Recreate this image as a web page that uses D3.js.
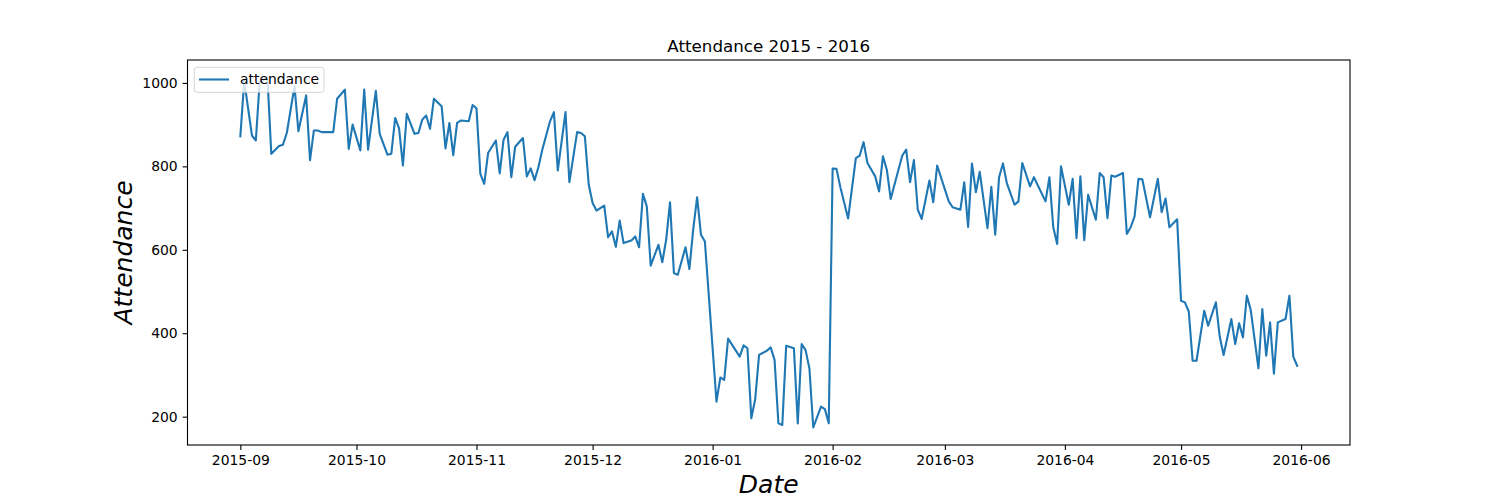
<!DOCTYPE html>
<html lang="en">
<head>
    <meta charset="UTF-8">
    <title>Attendance 2015 - 2016</title>
    <style>
        body { margin: 0; background: #ffffff; }
        text { font-family: "DejaVu Sans", sans-serif; fill: #000000; }
    </style>
</head>
<body>
    <script src="https://d3js.org/d3.v7.min.js"></script>
    <script>
        // Daily attendance readings (dates where the line has a vertex)
        let dates = [
            "2015-09-01", "2015-09-02", "2015-09-04", "2015-09-05", "2015-09-06", "2015-09-08", "2015-09-09", "2015-09-11",
            "2015-09-12", "2015-09-13", "2015-09-15", "2015-09-16", "2015-09-18", "2015-09-19", "2015-09-20", "2015-09-21",
            "2015-09-22", "2015-09-25", "2015-09-26", "2015-09-28", "2015-09-29", "2015-09-30",
            "2015-10-02", "2015-10-03", "2015-10-04", "2015-10-06", "2015-10-07", "2015-10-09", "2015-10-10", "2015-10-11",
            "2015-10-12", "2015-10-13", "2015-10-14", "2015-10-16", "2015-10-17", "2015-10-18", "2015-10-19", "2015-10-20",
            "2015-10-21", "2015-10-23", "2015-10-24", "2015-10-25", "2015-10-26", "2015-10-27", "2015-10-28", "2015-10-30",
            "2015-10-31",
            "2015-11-01", "2015-11-02", "2015-11-03", "2015-11-04", "2015-11-06", "2015-11-07", "2015-11-08", "2015-11-09",
            "2015-11-10", "2015-11-11", "2015-11-13", "2015-11-14", "2015-11-15", "2015-11-16", "2015-11-17", "2015-11-18",
            "2015-11-20", "2015-11-21", "2015-11-22", "2015-11-24", "2015-11-25", "2015-11-27", "2015-11-28", "2015-11-29",
            "2015-11-30",
            "2015-12-01", "2015-12-02", "2015-12-04", "2015-12-05", "2015-12-06", "2015-12-07", "2015-12-08", "2015-12-09",
            "2015-12-11", "2015-12-12", "2015-12-13", "2015-12-14", "2015-12-15", "2015-12-16", "2015-12-18", "2015-12-19",
            "2015-12-20", "2015-12-21", "2015-12-22", "2015-12-23", "2015-12-25", "2015-12-26", "2015-12-27", "2015-12-28",
            "2015-12-29", "2015-12-30",
            "2016-01-02", "2016-01-03", "2016-01-04", "2016-01-05", "2016-01-08", "2016-01-09", "2016-01-10", "2016-01-11",
            "2016-01-12", "2016-01-13", "2016-01-15", "2016-01-16", "2016-01-17", "2016-01-18", "2016-01-19", "2016-01-20",
            "2016-01-22", "2016-01-23", "2016-01-24", "2016-01-25", "2016-01-26", "2016-01-27", "2016-01-29", "2016-01-30",
            "2016-01-31",
            "2016-02-01", "2016-02-02", "2016-02-03", "2016-02-05", "2016-02-07", "2016-02-08", "2016-02-09", "2016-02-10",
            "2016-02-12", "2016-02-13", "2016-02-14", "2016-02-15", "2016-02-16", "2016-02-18", "2016-02-19", "2016-02-20",
            "2016-02-21", "2016-02-22", "2016-02-23", "2016-02-24", "2016-02-26", "2016-02-27", "2016-02-28",
            "2016-03-01", "2016-03-02", "2016-03-03", "2016-03-05", "2016-03-06", "2016-03-07", "2016-03-08", "2016-03-09",
            "2016-03-10", "2016-03-12", "2016-03-13", "2016-03-14", "2016-03-15", "2016-03-16", "2016-03-17", "2016-03-19",
            "2016-03-20", "2016-03-21", "2016-03-23", "2016-03-24", "2016-03-27", "2016-03-28", "2016-03-29", "2016-03-30",
            "2016-03-31",
            "2016-04-02", "2016-04-03", "2016-04-04", "2016-04-05", "2016-04-06", "2016-04-07", "2016-04-09", "2016-04-10",
            "2016-04-11", "2016-04-12", "2016-04-13", "2016-04-14", "2016-04-16", "2016-04-17", "2016-04-18", "2016-04-19",
            "2016-04-20", "2016-04-21", "2016-04-23", "2016-04-25", "2016-04-26", "2016-04-27", "2016-04-28", "2016-04-30",
            "2016-05-01", "2016-05-02", "2016-05-03", "2016-05-04", "2016-05-05", "2016-05-07", "2016-05-08", "2016-05-10",
            "2016-05-11", "2016-05-12", "2016-05-14", "2016-05-15", "2016-05-16", "2016-05-17", "2016-05-18", "2016-05-19",
            "2016-05-21", "2016-05-22", "2016-05-23", "2016-05-24", "2016-05-25", "2016-05-26", "2016-05-28", "2016-05-29",
            "2016-05-30", "2016-05-31"
        ];

        let attendance = [
            872, 1005, 874, 862, 1003, 1013, 830, 849,
            852, 880, 992, 884, 970, 815, 886, 886,
            882, 882, 962, 984, 842, 900,
            838, 984, 840, 981, 878, 828, 830, 916,
            891, 802, 926, 878, 880, 912, 922, 890,
            962, 944, 843, 904, 827, 904, 910, 908,
            947,
            939, 782, 758, 832, 862, 783, 864, 882,
            774, 847, 868, 776, 795, 767, 798, 840,
            908, 930, 790, 930, 762, 882, 880, 872,
            756,
            712, 694, 706, 630, 644, 607, 670, 616,
            622, 632, 606, 734, 704, 562, 612, 570,
            624, 714, 544, 540, 606, 554, 650, 726,
            636, 620,
            236, 294, 288, 387, 344, 371, 364, 196,
            242, 348, 358, 366, 336, 184, 180, 370,
            364, 184, 374, 360, 316, 174, 224, 218,
            184,
            795, 794, 750, 675, 820, 826, 858, 808,
            776, 740, 824, 792, 722, 792, 826, 840,
            762, 815, 696, 674, 766, 714, 802,
            745, 716, 702, 696, 762, 655, 807, 738,
            787, 652, 751, 636, 774, 807, 760, 708,
            716, 808, 752, 774, 716, 774, 654, 614,
            800,
            708, 770, 628, 776, 623, 732, 672, 784,
            774, 676, 778, 775, 784, 638, 654, 680,
            770, 769, 678, 770, 690, 723, 654, 673,
            478, 474, 452, 334, 334, 454, 418, 474,
            392, 348, 434, 374, 424, 390, 490, 456,
            316, 458, 346, 426, 303, 426, 434, 490,
            344, 322
        ];

        let yTicks = [200, 400, 600, 800, 1000];
        let seriesName = "attendance";

        // Figure and axes box (matplotlib default subplot position)
        let svgWidth = 1500;
        let svgHeight = 500;
        let margin = { top: 60, right: 150, bottom: 55, left: 187.5 };
        let chartWidth = svgWidth - margin.left - margin.right;
        let chartHeight = svgHeight - margin.top - margin.bottom;

        let parseDate = d3.timeParse("%Y-%m-%d");
        let data = dates.map((d, i) => ({ date: parseDate(d), value: attendance[i] }));

        let svg = d3.select("body")
            .append("svg")
            .attr("width", svgWidth)
            .attr("height", svgHeight);

        let chartGroup = svg.append("g")
            .attr("transform", `translate(${margin.left}, ${margin.top})`);

        // 5% padding on both axes, like matplotlib's autoscale
        let xExt = d3.extent(data, d => d.date);
        let xPad = (xExt[1] - xExt[0]) * 0.05;
        let xScale = d3.scaleTime()
            .domain([new Date(+xExt[0] - xPad), new Date(+xExt[1] + xPad)])
            .range([0, chartWidth]);

        let yExt = d3.extent(data, d => d.value);
        let yPad = (yExt[1] - yExt[0]) * 0.05;
        let yScale = d3.scaleLinear()
            .domain([yExt[0] - yPad, yExt[1] + yPad])
            .range([chartHeight, 0]);

        // Axes
        let xAxis = d3.axisBottom(xScale)
            .ticks(d3.timeMonth.every(1))
            .tickFormat(d3.timeFormat("%Y-%m"))
            .tickSizeInner(4.9)
            .tickSizeOuter(0)
            .tickPadding(4.9);

        let yAxis = d3.axisLeft(yScale)
            .tickValues(yTicks)
            .tickFormat(d3.format("d"))
            .tickSizeInner(4.9)
            .tickSizeOuter(0)
            .tickPadding(4.9);

        let gx = chartGroup.append("g")
            .attr("transform", `translate(0, ${chartHeight})`)
            .call(xAxis);

        let gy = chartGroup.append("g")
            .call(yAxis);

        [gx, gy].forEach(g => {
            g.select(".domain").remove();
            g.selectAll(".tick line").attr("stroke", "#000").attr("stroke-width", 1.1);
            g.selectAll(".tick text")
                .style("font-family", "DejaVu Sans")
                .style("font-size", "13.9px")
                .attr("fill", "#000");
        });

        // The attendance line
        let line = d3.line()
            .x(d => xScale(d.date))
            .y(d => yScale(d.value));

        chartGroup.append("path")
            .datum(data)
            .attr("fill", "none")
            .attr("stroke", "#1f77b4")
            .attr("stroke-width", 2.1)
            .attr("stroke-linejoin", "round")
            .attr("stroke-linecap", "square")
            .attr("d", line);

        // Axes frame
        chartGroup.append("rect")
            .attr("width", chartWidth)
            .attr("height", chartHeight)
            .attr("fill", "none")
            .attr("stroke", "#000")
            .attr("stroke-width", 1.1);

        // Legend, upper left
        let legend = chartGroup.append("g")
            .attr("transform", "translate(6.8, 7.3)");

        legend.append("rect")
            .attr("width", 129.7)
            .attr("height", 25)
            .attr("rx", 2.8)
            .attr("fill", "#fff")
            .attr("fill-opacity", 0.8)
            .attr("stroke", "#cccccc")
            .attr("stroke-opacity", 0.8)
            .attr("stroke-width", 1);

        legend.append("line")
            .attr("x1", 4.7)
            .attr("x2", 34.7)
            .attr("y1", 12.2)
            .attr("y2", 12.2)
            .attr("stroke", "#1f77b4")
            .attr("stroke-width", 2.1);

        legend.append("text")
            .attr("x", 45.7)
            .attr("y", 17.2)
            .style("font-size", "13.9px")
            .text(seriesName);

        // Title and axis labels
        svg.append("text")
            .attr("x", margin.left + chartWidth / 2)
            .attr("y", 51.5)
            .attr("text-anchor", "middle")
            .style("font-size", "16.7px")
            .text("Attendance 2015 - 2016");

        svg.append("text")
            .attr("x", margin.left + chartWidth / 2)
            .attr("y", 492.5)
            .attr("text-anchor", "middle")
            .style("font-size", "25px")
            .style("font-style", "italic")
            .text("Date");

        svg.append("text")
            .attr("transform", `translate(132, ${margin.top + chartHeight / 2}) rotate(-90)`)
            .attr("text-anchor", "middle")
            .style("font-size", "25px")
            .style("font-style", "italic")
            .text("Attendance");
    </script>
</body>
</html>
